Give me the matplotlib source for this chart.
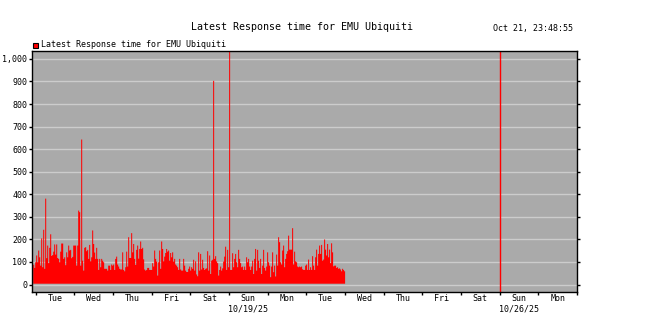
import pandas as pd
import matplotlib
matplotlib.use("Agg")
import matplotlib.pyplot as plt
import matplotlib.dates as mdates
from matplotlib.patches import Rectangle
from matplotlib.ticker import FuncFormatter, MultipleLocator

# Response time samples (ms), one bar per sample
response_ms = [
    90, 76, 101, 131, 101, 153, 123, 86, 207, 79,
    245, 72, 383, 119, 175, 97, 165, 225, 129, 133,
    148, 180, 135, 180, 120, 116, 101, 148, 184, 184,
    116, 123, 88, 145, 123, 175, 153, 156, 119, 125,
    175, 175, 175, 86, 175, 330, 323, 86, 645, 108,
    64, 165, 168, 150, 156, 116, 178, 105, 123, 242,
    182, 144, 116, 165, 116, 67, 116, 79, 116, 108,
    101, 72, 72, 72, 64, 86, 86,
    67, 91, 86, 91, 67, 116, 126, 91, 82, 72,
    69, 69, 145, 67, 61, 79, 148, 82, 212, 120,
    120, 230, 145, 182, 116, 89, 156, 175, 117, 160,
    193, 160, 165, 114, 69, 64, 67, 76, 76, 67,
    67, 67, 97, 82, 153, 116, 104, 42, 101, 153,
    72, 193, 160, 105, 126, 142, 160, 148, 153, 108,
    142, 123, 145, 104, 116, 91, 86, 79, 67, 116,
    69, 64, 64, 116, 86, 64, 58, 58,
    72, 82, 64, 79, 72, 112, 64, 105, 47, 39,
    145, 64, 138, 69, 112, 76, 67, 72, 74, 150,
    64, 131, 49, 108, 112, 905, 116, 128, 105, 97,
    42, 67, 82, 64, 74, 104, 126, 170, 67, 156,
    79, 1100, 67, 67, 141, 79, 116, 138, 101, 79,
    156, 116, 97, 79, 82, 67, 82, 67, 123, 101,
    116, 82, 67, 82, 108, 49, 116, 160, 64, 156,
    108, 76, 116, 49, 86, 156, 76, 64,
    82, 145, 101, 86, 35, 82, 145, 57, 86, 38,
    135, 86, 212, 190, 101, 91, 153, 175, 79, 116,
    138, 150, 219, 157, 157, 157, 252, 91, 148, 105,
    101, 82, 79, 82, 79, 82, 70, 67, 67, 86,
    91, 67, 113, 67, 79, 67, 128, 86, 67, 123,
    157, 86, 138, 175, 138, 178, 108, 113, 202, 157,
    131, 182, 123, 157, 97, 185, 145, 83, 86, 86,
    76, 79, 72, 74, 69, 61, 72, 67, 61,
]
first_sample = "2025-10-13 22:08"
sample_step = "2234s"
week_marker = "2025-10-26 00:00"
x_start = "2025-10-13 21:42"
x_end = "2025-10-28 00:00"

title = "Latest Response time for EMU Ubiquiti"
legend_label = "Latest Response time for EMU Ubiquiti"
stamp = "Oct 21, 23:48:55"

times = pd.date_range(first_sample, periods=len(response_ms), freq=sample_step)
edges = pd.date_range(first_sample, periods=len(response_ms) + 1, freq=sample_step)

mono = "DejaVu Sans Mono"
plt.rcParams["font.family"] = mono
plt.rcParams["font.size"] = 6

fig = plt.figure(figsize=(6.46, 3.33), dpi=100)
ax = fig.add_axes([32 / 646, 1 - 292 / 333, 545 / 646, 241 / 333])
ax.set_facecolor("#aaaaaa")

# bars, one sample wide
vals = response_ms + [response_ms[-1]]
ax.fill_between(edges, 6, vals, step="post", color="#ff0000", linewidth=0)
ax.axvline(pd.Timestamp(week_marker), color="#ff0000", linewidth=1)

ax.set_ylim(-33, 1035)
ax.set_xlim(pd.Timestamp(x_start), pd.Timestamp(x_end))

ax.yaxis.set_major_locator(MultipleLocator(100))
ax.yaxis.set_major_formatter(FuncFormatter(lambda v, p: f"{v:,.0f}"))
ax.grid(axis="y", color="#cccccc", linewidth=1)
ax.set_axisbelow(True)

ax.xaxis.set_major_locator(mdates.DayLocator())
ax.xaxis.set_major_formatter(FuncFormatter(lambda v, p: ""))
ax.xaxis.set_minor_locator(mdates.HourLocator(byhour=[12]))


def day_label(v, p):
    d = mdates.num2date(v)
    if d.weekday() == 6:
        return d.strftime("%a") + "\n" + d.strftime("%m/%d/%y")
    return d.strftime("%a")


ax.xaxis.set_minor_formatter(FuncFormatter(day_label))
ax.tick_params(axis="x", which="major", direction="out", length=2.5, width=1)
ax.tick_params(axis="x", which="minor", length=0, pad=1.5, labelsize=6)
ax.tick_params(axis="y", direction="out", length=2, width=1, pad=1.5,
               labelsize=6, right=True)

for s in ax.spines.values():
    s.set_color("black")
    s.set_linewidth(1)

fig.text(302 / 646, 1 - 27.5 / 333, title, ha="center", va="center",
         fontsize=7.2, family=mono)
fig.text(573 / 646, 1 - 29 / 333, stamp, ha="right", va="center",
         fontsize=6, family=mono)

fig.patches.append(Rectangle((33 / 646, 1 - 47.5 / 333), 5 / 646, 5 / 333,
                             transform=fig.transFigure, facecolor="#ff0000",
                             edgecolor="black", linewidth=0.8))
fig.text(41 / 646, 1 - 44.5 / 333, legend_label, ha="left", va="center",
         fontsize=6, family=mono)

fig.savefig("out.png", dpi=100)
